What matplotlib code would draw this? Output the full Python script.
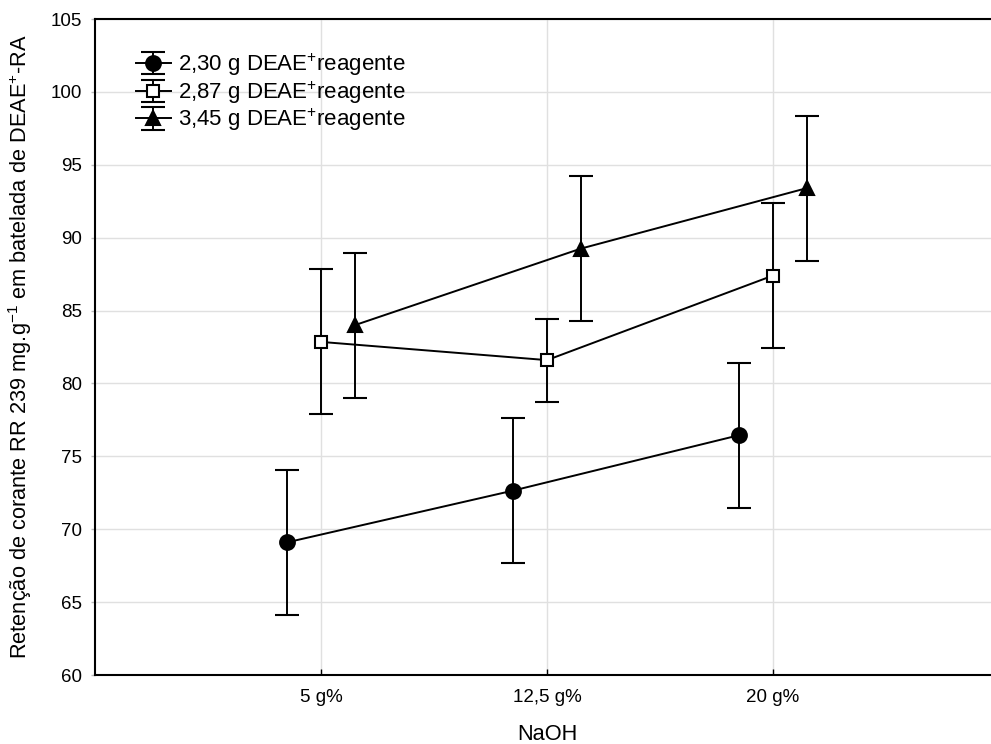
import matplotlib
matplotlib.use("Agg")
import matplotlib.pyplot as plt
import numpy as np

plt.rcParams['font.family'] = ['Liberation Sans', 'DejaVu Sans']
plt.rcParams['mathtext.default'] = 'regular'

categories = ["5 g%", "12,5 g%", "20 g%"]
series_labels = ["2,30 g DEAE$^{+}$reagente",
                 "2,87 g DEAE$^{+}$reagente",
                 "3,45 g DEAE$^{+}$reagente"]
means_230 = [69.1, 72.65, 76.45]
means_287 = [82.85, 81.6, 87.4]
means_345 = [84.0, 89.25, 93.4]
err_230 = [4.97, 4.97, 4.97]
err_287 = [4.97, 2.85, 4.97]
err_345 = [4.97, 4.97, 4.97]

series = [
    (means_230, err_230, 'o', 'black', 10.6),
    (means_287, err_287, 's', 'white', 9.2),
    (means_345, err_345, '^', 'black', 10.5),
]
offsets = [-0.15, 0.0, 0.15]

fig = plt.figure(figsize=(9.91, 7.44), dpi=100)
ax = fig.add_axes([95 / 991, (744 - 675) / 744, 904 / 991, 656 / 744])

x_base = np.arange(1, len(categories) + 1)
for (m, e, mk, fc, ms), off, lab in zip(series, offsets, series_labels):
    ax.errorbar(x_base + off, m, yerr=e, fmt=mk + '-', color='black',
                mfc=fc, mec='black', mew=1.5, ms=ms, lw=1.4,
                elinewidth=1.4, capsize=8.3, capthick=1.4, label=lab,
                zorder=3)

ax.set_xlim(0, 4)
ax.set_ylim(60, 105)
ax.set_yticks(np.arange(60, 106, 5))
ax.set_xticks(x_base)
ax.set_xticklabels(categories)
ax.grid(True, color='#e0e0e0', lw=1.0, zorder=0)
ax.set_axisbelow(True)

for s in ['left', 'top', 'bottom']:
    ax.spines[s].set_linewidth(1.5)
ax.spines['right'].set_visible(False)
ax.tick_params(axis='x', direction='in', length=4, width=1, labelsize=13.5, pad=10)
ax.tick_params(axis='y', direction='out', length=3, width=1, color='#bbbbbb',
               labelsize=13.5, pad=6)

ax.set_xlabel("NaOH", fontsize=15.7, labelpad=13)
ax.set_ylabel("Retenção de corante RR 239 mg.g$^{-1}$ em batelada de DEAE$^{+}$-RA",
              fontsize=15.7)
ax.yaxis.set_label_coords(-0.067, 0.5)

leg = ax.legend(loc='upper left', bbox_to_anchor=(0.035, 0.964), frameon=False,
                fontsize=16, handlelength=1.6, handletextpad=0.3,
                labelspacing=0.05, borderaxespad=0)

fig.savefig("out.png", dpi=100)
